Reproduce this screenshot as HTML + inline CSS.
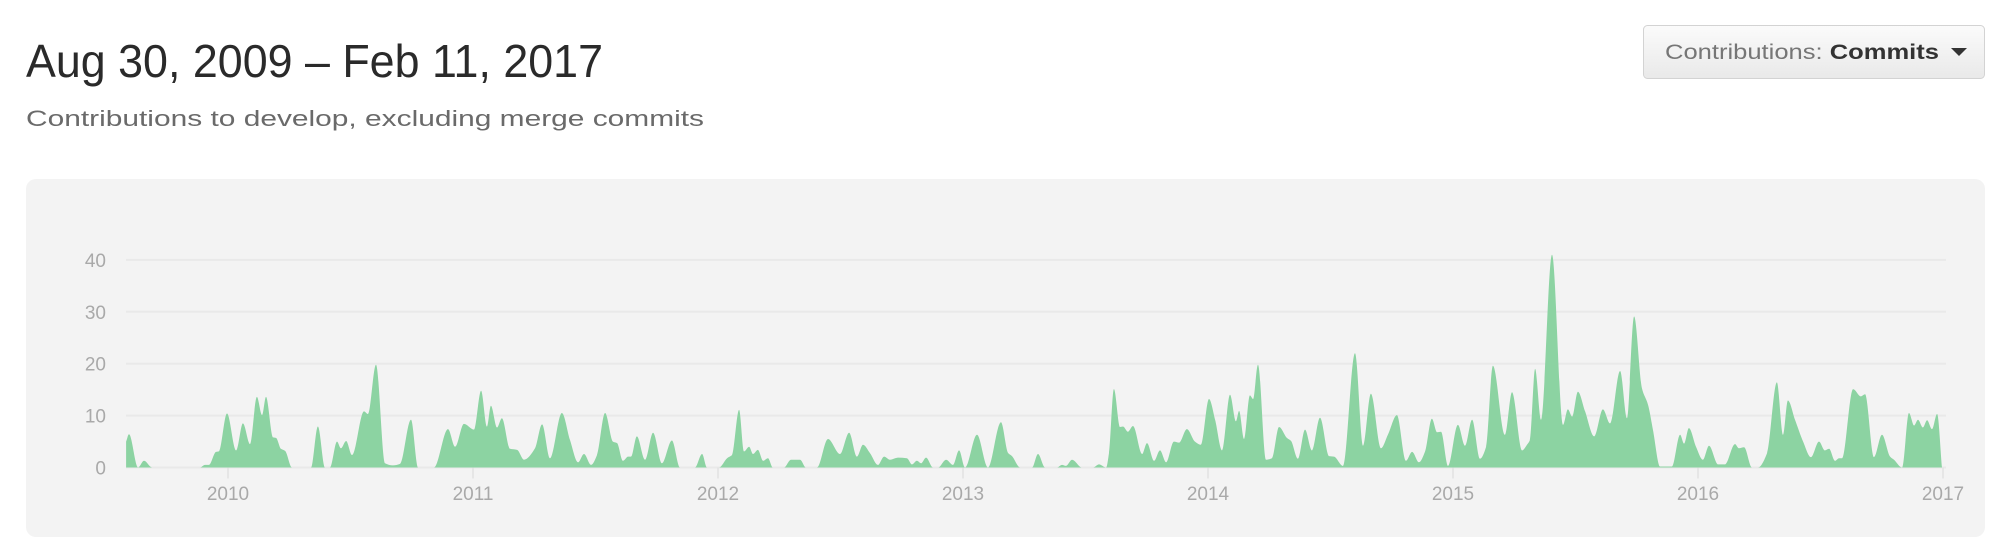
<!DOCTYPE html>
<html><head><meta charset="utf-8"><style>
html,body{margin:0;padding:0;background:#fff;}
body{width:2002px;height:552px;overflow:hidden;font-family:"Liberation Sans",sans-serif;}
</style></head><body>
<svg id="chart" width="2002" height="552" viewBox="0 0 2002 552" xmlns="http://www.w3.org/2000/svg" style="font-family:'Liberation Sans',sans-serif">
<defs><linearGradient id="btng" x1="0" y1="0" x2="0" y2="1"><stop offset="0" stop-color="#fbfbfb"/><stop offset="1" stop-color="#e9e9e9"/></linearGradient></defs>
<text x="26" y="77" font-size="46" fill="#2a2a2a" textLength="577" lengthAdjust="spacingAndGlyphs">Aug 30, 2009 – Feb 11, 2017</text>
<text x="26" y="126" font-size="22.5" fill="#6a6a6a" textLength="678" lengthAdjust="spacingAndGlyphs">Contributions to develop, excluding merge commits</text>
<g>
<rect x="1643.5" y="25.5" width="341" height="53" rx="4" fill="url(#btng)" stroke="#d3d3d3"/>
<text x="1665" y="59" font-size="21.5" fill="#767676" textLength="274" lengthAdjust="spacingAndGlyphs">Contributions: <tspan font-weight="bold" fill="#333">Commits</tspan></text>
<path d="M1951 48 L1967 48 L1959 56 Z" fill="#333"/>
</g>
<rect x="26" y="179" width="1959" height="358" rx="10" fill="#f3f3f3"/>
<g id="grid"></g><g id="area"></g><g id="axes"></g>
</svg>
<script>
const yTicks=[0,10,20,30,40];
const xTickLabels=["2010","2011","2012","2013","2014","2015","2016","2017"];
const xTickYears=[2010,2011,2012,2013,2014,2015,2016,2017];
const dates=[2009.584,2009.596,2009.633,2009.657,2009.690,2009.886,2009.906,2009.922,2009.951,2009.963,2009.996,2010.033,2010.061,2010.090,2010.118,2010.139,2010.155,2010.184,2010.196,2010.216,2010.233,2010.261,2010.339,2010.367,2010.396,2010.416,2010.445,2010.461,2010.482,2010.506,2010.555,2010.571,2010.604,2010.641,2010.673,2010.702,2010.747,2010.776,2010.841,2010.898,2010.927,2010.963,2011.004,2011.033,2011.057,2011.073,2011.098,2011.118,2011.151,2011.180,2011.208,2011.253,2011.282,2011.314,2011.363,2011.396,2011.429,2011.453,2011.482,2011.506,2011.539,2011.571,2011.588,2011.612,2011.633,2011.645,2011.669,2011.702,2011.735,2011.771,2011.812,2011.845,2011.906,2011.935,2011.955,2012.004,2012.037,2012.057,2012.086,2012.106,2012.127,2012.143,2012.163,2012.184,2012.204,2012.224,2012.269,2012.298,2012.335,2012.359,2012.404,2012.449,2012.498,2012.535,2012.567,2012.592,2012.620,2012.653,2012.678,2012.702,2012.735,2012.771,2012.792,2012.812,2012.829,2012.849,2012.878,2012.898,2012.931,2012.959,2012.984,2013.008,2013.057,2013.102,2013.155,2013.184,2013.200,2013.233,2013.282,2013.306,2013.335,2013.384,2013.404,2013.420,2013.445,2013.486,2013.531,2013.555,2013.584,2013.596,2013.616,2013.641,2013.653,2013.673,2013.694,2013.731,2013.751,2013.780,2013.804,2013.829,2013.861,2013.882,2013.914,2013.947,2013.971,2014.004,2014.029,2014.057,2014.090,2014.114,2014.127,2014.147,2014.171,2014.184,2014.204,2014.237,2014.261,2014.290,2014.322,2014.339,2014.367,2014.396,2014.424,2014.457,2014.494,2014.514,2014.551,2014.600,2014.633,2014.665,2014.706,2014.735,2014.771,2014.808,2014.833,2014.861,2014.886,2014.914,2014.935,2014.951,2014.980,2015.020,2015.049,2015.078,2015.110,2015.135,2015.163,2015.212,2015.241,2015.282,2015.302,2015.314,2015.335,2015.359,2015.404,2015.449,2015.469,2015.486,2015.510,2015.539,2015.576,2015.612,2015.641,2015.682,2015.710,2015.739,2015.771,2015.796,2015.816,2015.845,2015.894,2015.927,2015.943,2015.963,2015.992,2016.020,2016.045,2016.082,2016.110,2016.151,2016.167,2016.188,2016.220,2016.245,2016.282,2016.322,2016.347,2016.367,2016.396,2016.429,2016.461,2016.494,2016.518,2016.535,2016.559,2016.576,2016.588,2016.633,2016.665,2016.682,2016.718,2016.751,2016.784,2016.800,2016.833,2016.861,2016.882,2016.898,2016.918,2016.935,2016.955,2016.976,2016.996];
const commits=[5.0,6.4,0,1.3,0,0,0.5,0.5,3,3.1,10.4,3.3,8.5,4.5,13.6,10.1,13.6,5.8,5.7,3.6,3.2,0,0,7.9,0,0,5,3.7,5.1,2.4,10.8,10.3,19.8,0.8,0.4,0.7,9.2,0,0,7.4,4,8.4,7.3,14.8,7.9,11.9,7.7,9.5,3.6,3.4,1.5,3.7,8.3,1.8,10.5,5.3,1,2.6,0.5,2.4,10.5,5,4.7,1.3,2.1,2.1,6,1.5,6.7,0.8,5.2,0,0,2.6,0,0,1.8,2.4,11.1,3.1,4,2.6,3.4,1.3,1.8,0,0,1.5,1.5,0,0,5.5,2.6,6.7,2.1,4.4,2.8,0.5,2.1,1.5,1.9,1.8,0.6,1.3,0.8,1.9,0,0,1.5,0.5,3.3,0,6.3,0,8.7,2.8,2.2,0,0,2.6,0,0,0.5,0.3,1.5,0,0,0.6,0,2.8,15.1,7.8,7.9,6.9,8,2.6,4.7,1.3,3.3,1,5,4.8,7.4,5,4.4,13.2,9.2,3.3,14,8.9,10.9,5.5,13.9,13.2,19.8,1.5,1.8,7.8,5.7,5.1,1.7,7.3,3.3,9.6,2.2,2.1,0.3,22,4.2,14.2,3.7,6.4,10.1,1.3,3,1,3.1,9.4,6.8,6.9,0.3,8.2,4.2,9.2,1.7,4,19.6,6.3,14.5,3.3,4.4,5.3,19,9.2,41,8.2,11.2,9.8,14.6,10.8,6,11.2,8.5,18.6,9.5,29.1,15.3,12.1,7.3,0.2,0.2,6.3,4.6,7.6,4,1.5,4.2,0.6,0.6,4.5,3.7,3.9,0,0,2.8,16.4,6.3,12.9,9.2,5,2,5,3.3,3.6,1.3,1.8,1.8,15.1,13.7,14.1,2,6.3,2.1,1.5,0,10.5,8.1,9.2,7.7,9.1,7.4,10.3,0];
const NS="http://www.w3.org/2000/svg";
const X0=228, PXY=245, Y0=467.5, PX10=51.9, LEFT=126, RIGHT=1946;
function xs(t){return X0+(t-2010)*PXY;}
function ys(v){return Y0-v*PX10/10;}
function mk(tag,attrs,parent){const e=document.createElementNS(NS,tag);for(const k in attrs)e.setAttribute(k,attrs[k]);parent.appendChild(e);return e;}
const grid=document.getElementById('grid'), axes=document.getElementById('axes'), areaG=document.getElementById('area');
yTicks.forEach(v=>{
  const l=mk('line',{x1:LEFT,x2:RIGHT,y1:ys(v),y2:ys(v),stroke:'#e9e9e9','stroke-width':2},grid);
  
  
  const t=mk('text',{x:106,y:ys(v)+7,'text-anchor':'end','font-size':19,fill:'#a9a9a9'},axes);
  t.textContent=String(v);
  
  
});
xTickYears.forEach((yr,i)=>{
  const l=mk('line',{x1:xs(yr),x2:xs(yr),y1:Y0,y2:Y0+11,stroke:'#e2e2e2','stroke-width':1.5},grid);
  
  
  const t=mk('text',{x:xs(yr),y:500,'text-anchor':'middle','font-size':19,fill:'#a9a9a9'},axes);
  t.textContent=xTickLabels[i];
  
  
});
const px=dates.map(xs), py=commits.map(ys), n=px.length;
const d=[],m=[];
for(let i=0;i<n-1;i++)d.push((py[i+1]-py[i])/(px[i+1]-px[i]));
m[0]=d[0];m[n-1]=d[n-2];
for(let i=1;i<n-1;i++){ if(d[i-1]*d[i]<=0)m[i]=0; else {const h0=px[i]-px[i-1],h1=px[i+1]-px[i];m[i]=3*(h0+h1)/((2*h1+h0)/d[i-1]+(h1+2*h0)/d[i]);} }
let path='M'+px[0].toFixed(1)+','+Y0+' L'+px[0].toFixed(1)+','+py[0].toFixed(1);
for(let i=0;i<n-1;i++){const h=(px[i+1]-px[i])/3;
  path+=' C'+(px[i]+h).toFixed(1)+','+(py[i]+m[i]*h).toFixed(1)+' '+(px[i+1]-h).toFixed(1)+','+(py[i+1]-m[i+1]*h).toFixed(1)+' '+px[i+1].toFixed(1)+','+py[i+1].toFixed(1);}
path+=' L'+px[n-1].toFixed(1)+','+Y0+' Z';
const a=mk('path',{d:path,fill:'#8cd3a2'},areaG);


</script>
</body></html>
